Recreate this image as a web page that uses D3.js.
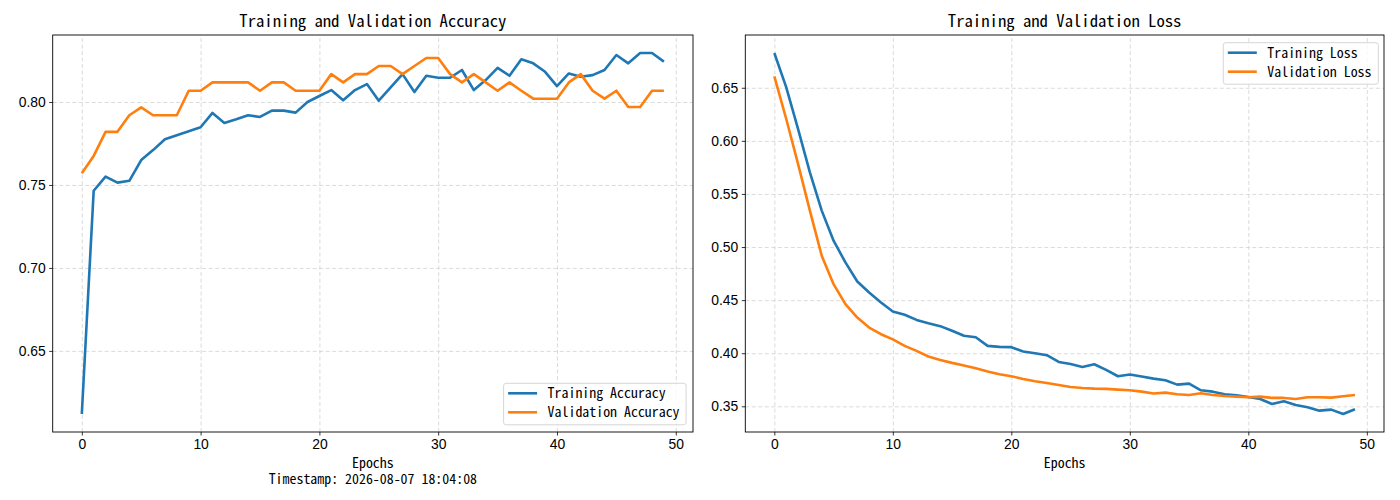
<!DOCTYPE html>
<html>
<head>
<meta charset="utf-8">
<script src="https://cdn.jsdelivr.net/npm/d3@7"></script>
<style>
  body { margin: 0; background: #fff; }
  svg { font-family: 'Noto Sans Mono CJK SC', 'Noto Sans CJK SC', 'DejaVu Sans Mono', monospace; }
  .grid line { stroke: #d2d2d2; stroke-width: 0.8; stroke-dasharray: 4,2.5; }
  .grid .domain { display: none; }
  .axis .domain { display: none; }
  .axis line { stroke: #000; stroke-width: 0.8; }
  .axis text { font-size: 13.9px; fill: #000; }
  .frame { fill: none; stroke: #000; stroke-width: 0.9; }
</style>
</head>
<body>
<script>
const epochs = d3.range(50);

const trainAcc = [0.612, 0.7465, 0.755, 0.7514, 0.7525, 0.765, 0.771, 0.7775, 0.780, 0.7824,
    0.7848, 0.7934, 0.7874, 0.7896, 0.792, 0.791, 0.7948, 0.7948, 0.7936, 0.800,
    0.8036, 0.8072, 0.801, 0.8072, 0.8108, 0.8008, 0.8088, 0.8168, 0.806, 0.8158,
    0.8146, 0.8146, 0.8193, 0.8072, 0.8132, 0.8206, 0.8158, 0.8257, 0.8233, 0.8182,
    0.8096, 0.8172, 0.8152, 0.8162, 0.8193, 0.8283, 0.8233, 0.8295, 0.8295, 0.8243];

const valAcc = [0.757, 0.7675, 0.782, 0.782, 0.792, 0.7968, 0.792, 0.792, 0.792, 0.8068,
    0.8068, 0.8118, 0.8118, 0.8118, 0.8118, 0.8068, 0.8118, 0.8118, 0.8068, 0.8068,
    0.8068, 0.8168, 0.8118, 0.8168, 0.8168, 0.8217, 0.8217, 0.8168, 0.8217, 0.8265,
    0.8265, 0.8168, 0.8118, 0.8168, 0.8118, 0.8068, 0.8118, 0.8068, 0.802, 0.802,
    0.802, 0.8118, 0.8168, 0.8068, 0.802, 0.8068, 0.797, 0.797, 0.8068, 0.8068];

const trainLoss = [0.6827, 0.6506, 0.6113, 0.5704, 0.5343, 0.506, 0.4855, 0.4676, 0.4572, 0.4478,
    0.4393, 0.4362, 0.4314, 0.4283, 0.4255, 0.4211, 0.4164, 0.4151, 0.4069, 0.406,
    0.4057, 0.4016, 0.40, 0.3981, 0.3918, 0.3899, 0.3871, 0.3896, 0.3843, 0.3783,
    0.3799, 0.378, 0.3761, 0.3745, 0.3704, 0.3714, 0.3651, 0.3638, 0.3613, 0.3604,
    0.3588, 0.3569, 0.3522, 0.3547, 0.3513, 0.3491, 0.3459, 0.3469, 0.3428, 0.3472];

const valLoss = [0.6607, 0.6208, 0.5783, 0.5343, 0.4918, 0.465, 0.4462, 0.4336, 0.4242, 0.4179,
    0.413, 0.4069, 0.4022, 0.3969, 0.3937, 0.3909, 0.3884, 0.3858, 0.3827, 0.3802,
    0.3783, 0.3758, 0.3736, 0.372, 0.3701, 0.3682, 0.3673, 0.3667, 0.3664, 0.3657,
    0.3651, 0.3638, 0.362, 0.3629, 0.3613, 0.3607, 0.3623, 0.3607, 0.3597, 0.3591,
    0.3585, 0.3591, 0.3579, 0.3579, 0.3569, 0.3585, 0.3585, 0.3582, 0.3594, 0.3607];

const xTicks = [0, 10, 20, 30, 40, 50];
const accTicks = [0.65, 0.70, 0.75, 0.80];
const lossTicks = [0.35, 0.40, 0.45, 0.50, 0.55, 0.60, 0.65];
const timestamp = 'Timestamp: 2026-08-07 18:04:08';

const colors = ['#1f77b4', '#ff7f0e'];

const svg = d3.select('body').append('svg')
    .attr('width', 1400)
    .attr('height', 500);

// pad a domain by 5% on each side, like matplotlib does
function padded(lo, hi) {
    const m = (hi - lo) * 0.05;
    return [lo - m, hi + m];
}

function drawPanel(opt) {
    const x = d3.scaleLinear().domain(padded(0, epochs.length - 1)).range([opt.left, opt.right]);
    const all = opt.series.flatMap(s => s.values);
    const y = d3.scaleLinear().domain(padded(d3.min(all), d3.max(all))).range([opt.bottom, opt.top]);

    const g = svg.append('g');

    // grid
    g.append('g')
        .attr('class', 'grid')
        .attr('transform', 'translate(0,' + opt.bottom + ')')
        .call(d3.axisBottom(x).tickValues(xTicks).tickSize(-(opt.bottom - opt.top)).tickFormat(''));
    g.append('g')
        .attr('class', 'grid')
        .attr('transform', 'translate(' + opt.left + ',0)')
        .call(d3.axisLeft(y).tickValues(opt.yTicks).tickSize(-(opt.right - opt.left)).tickFormat(''));

    // lines
    const line = d3.line()
        .x((d, i) => x(epochs[i]))
        .y(d => y(d));

    g.selectAll('.series')
        .data(opt.series)
        .join('path')
        .attr('class', 'series')
        .attr('fill', 'none')
        .attr('stroke', (d, i) => colors[i])
        .attr('stroke-width', 2.6)
        .attr('stroke-linejoin', 'round')
        .attr('d', d => line(d.values));

    // frame
    g.append('rect')
        .attr('class', 'frame')
        .attr('x', opt.left)
        .attr('y', opt.top)
        .attr('width', opt.right - opt.left)
        .attr('height', opt.bottom - opt.top);

    // axes
    g.append('g')
        .attr('class', 'axis')
        .attr('transform', 'translate(0,' + opt.bottom + ')')
        .call(d3.axisBottom(x).tickValues(xTicks).tickSize(3.5).tickPadding(4).tickFormat(d3.format('d')));
    g.append('g')
        .attr('class', 'axis')
        .attr('transform', 'translate(' + opt.left + ',0)')
        .call(d3.axisLeft(y).tickValues(opt.yTicks).tickSize(3.5).tickPadding(3.5).tickFormat(d3.format('.2f')));

    const cx = (opt.left + opt.right) / 2;

    g.append('text')
        .attr('x', cx)
        .attr('y', 26.5)
        .attr('text-anchor', 'middle')
        .style('font-size', '16.7px')
        .text(opt.title);

    g.append('text')
        .attr('x', cx)
        .attr('y', 468)
        .attr('text-anchor', 'middle')
        .style('font-size', '13.9px')
        .text('Epochs');

    if (opt.note) {
        g.append('text')
            .attr('x', cx)
            .attr('y', 484)
            .attr('text-anchor', 'middle')
            .style('font-size', '13.9px')
            .text(opt.note);
    }

    // legend
    const lg = g.append('g')
        .attr('transform', 'translate(' + opt.legend.x + ',' + opt.legend.y + ')');
    lg.append('rect')
        .attr('width', opt.legend.w)
        .attr('height', 41.5)
        .attr('rx', 2.5)
        .attr('fill', '#fff')
        .attr('fill-opacity', 0.8)
        .attr('stroke', '#d6d6d6')
        .attr('stroke-width', 1);
    const item = lg.selectAll('.item')
        .data(opt.series)
        .join('g')
        .attr('class', 'item')
        .attr('transform', (d, i) => 'translate(0,' + (10 + i * 19) + ')');
    item.append('line')
        .attr('x1', 4.5)
        .attr('x2', 33.5)
        .attr('stroke', (d, i) => colors[i])
        .attr('stroke-width', 2.6);
    item.append('text')
        .attr('x', 44)
        .attr('y', 5)
        .style('font-size', '13.9px')
        .text(d => d.name);
}

drawPanel({
    left: 52.7, right: 693, top: 35, bottom: 432,
    title: 'Training and Validation Accuracy',
    yTicks: accTicks,
    series: [
        { name: 'Training Accuracy', values: trainAcc },
        { name: 'Validation Accuracy', values: valAcc }
    ],
    note: timestamp,
    legend: { x: 503.6, y: 383.3, w: 182.5 }
});

drawPanel({
    left: 745.3, right: 1384, top: 35, bottom: 432,
    title: 'Training and Validation Loss',
    yTicks: lossTicks,
    series: [
        { name: 'Training Loss', values: trainLoss },
        { name: 'Validation Loss', values: valLoss }
    ],
    legend: { x: 1223.3, y: 42.7, w: 155 }
});
</script>
</body>
</html>
